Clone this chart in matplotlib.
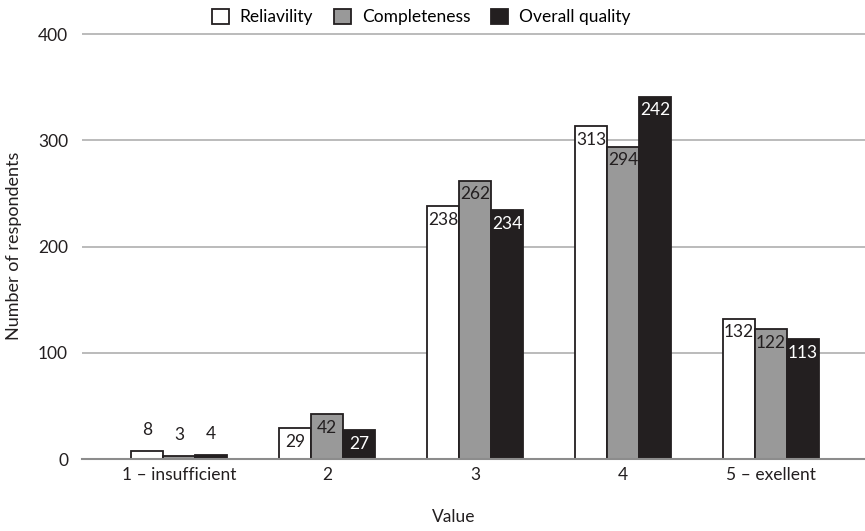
import matplotlib.pyplot as plt
import numpy as np

plt.rcParams['font.family'] = ['Lato', 'DejaVu Sans']

categories = ['1 – insufficient', '2', '3', '4', '5 – exellent']
series = ['Reliavility', 'Completeness', 'Overall quality']

# bar heights
reliavility = [8, 29, 238, 313, 132]
completeness = [3, 42, 262, 294, 122]
overall = [4, 27, 234, 341, 113]

# data labels as printed on the chart
reliavility_lbl = ['8', '29', '238', '313', '132']
completeness_lbl = ['3', '42', '262', '294', '122']
overall_lbl = ['4', '27', '234', '242', '113']

fills = ['white', '#999999', '#231f20']
text_cols = ['#231f20', '#231f20', 'white']
edge = '#231f20'

fig = plt.figure(figsize=(8.65, 5.31), dpi=100)
ax = fig.add_axes([82 / 865, 72 / 531, 1 - 82 / 865, 427.1 / 531])

x = np.arange(len(categories))
w = 0.216
values = [reliavility, completeness, overall]
labels = [reliavility_lbl, completeness_lbl, overall_lbl]

for i in range(3):
    pos = x + (i - 1) * w
    bars = ax.bar(pos, values[i], w, color=fills[i], edgecolor=edge,
                  linewidth=1.3, label=series[i], zorder=3)
    for j, b in enumerate(bars):
        h = b.get_height()
        if j == 0:
            ax.annotate(labels[i][j], (b.get_x() + w / 2, h), xytext=(0, 9),
                        textcoords='offset points', ha='center', va='bottom',
                        fontsize=12.5, color='#231f20')
        else:
            ax.annotate(labels[i][j], (b.get_x() + w / 2, h), xytext=(0, -4),
                        textcoords='offset points', ha='center', va='top',
                        fontsize=12.5, color=text_cols[i])

ax.set_xlim(-0.655, 4.635)
ax.set_ylim(0, 402)
ax.set_yticks([0, 100, 200, 300, 400])
ax.set_xticks(x)
ax.set_xticklabels(categories)
ax.tick_params(axis='both', length=0, labelsize=12.5, labelcolor='#231f20')
ax.tick_params(axis='y', pad=10)
ax.tick_params(axis='x', pad=6)
ax.yaxis.grid(True, color='#a8a8a8', linewidth=1.1, zorder=0)
ax.set_axisbelow(True)
for s in ['top', 'right', 'left']:
    ax.spines[s].set_visible(False)
ax.spines['bottom'].set_color('#8c8c8c')
ax.spines['bottom'].set_linewidth(1.5)
ax.spines['bottom'].set_zorder(4)

ax.set_ylabel('Number of respondents', fontsize=13, color='#231f20')
ax.yaxis.set_label_coords(-0.077, 0.5)
ax.set_xlabel('Value', fontsize=12.5, color='#231f20')
ax.xaxis.set_label_coords(0.475, -0.118)

fig.legend(loc='upper center', bbox_to_anchor=(421 / 865, 1.013), ncol=3,
           frameon=False, fontsize=12.5, handlelength=1.0, handleheight=1.0,
           handletextpad=0.6, columnspacing=1.2)

plt.savefig('out.png', dpi=100)
